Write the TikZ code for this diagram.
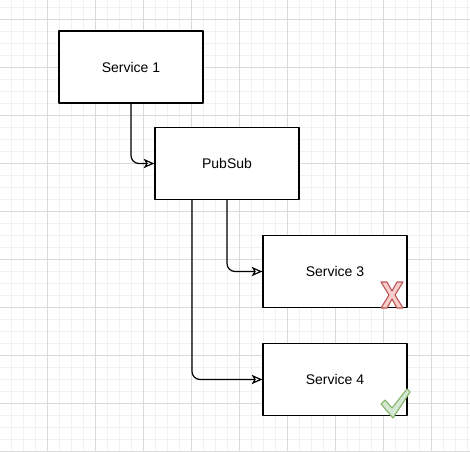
\documentclass[tikz,border=0pt]{standalone}
\usepackage{fontspec}
\setmainfont{Liberation Sans}
\usetikzlibrary{arrows.meta}
\definecolor{minorgrid}{HTML}{F1F1F1}
\definecolor{majorgrid}{HTML}{DADADA}
\definecolor{crossred}{HTML}{B85450}
\definecolor{crossfill}{HTML}{F8CECC}
\definecolor{tickgreen}{HTML}{82B366}
\definecolor{tickfill}{HTML}{D5E8D4}
\tikzset{
  service/.style={draw,fill=white,line width=1pt,minimum width=108pt,minimum height=54pt,
    font=\fontsize{10.5}{12}\selectfont},
  link/.style={line width=0.9pt,rounded corners=6pt,-{Stealth[open,length=8pt,width=7pt,inset=2pt]}},
}
\begin{document}
\begin{tikzpicture}[x=0.75pt,y=-0.75pt,line join=round,line cap=round]
			\fill[white] (0,0) rectangle (470,452);
			\useasboundingbox (0,0) rectangle (470,452);
			% grid paper
			\foreach \i in {0,...,38} \draw[minorgrid,line width=0.6pt] (11.3+12*\i,0)--++(0,452);
			\foreach \i in {0,...,37} \draw[minorgrid,line width=0.6pt] (0,7.3+12*\i)--++(470,0);
			\foreach \i in {0,...,8} \draw[majorgrid,line width=0.6pt] (47.3+48*\i,0)--++(0,452);
			\foreach \i in {0,...,9} \draw[majorgrid,line width=0.6pt] (0,19.3+48*\i)--++(470,0);
			
			\node[service] (svc1) at (131,67) {Service 1};
			\node[service] (pubsub) at (227,163.5) {PubSub};
			\node[service] (svc3) at (335,271.5) {Service 3};
			\node[service] (svc4) at (335,379.5) {Service 4};
			
			\draw[link] (svc1.south) |- (pubsub.west);
			\draw[link] (pubsub.south) |- (svc3.west);
			\draw[link] ([xshift=-26.25pt]pubsub.south) |- (svc4.west);
			
			% red cross and green tick
			\draw[crossred,fill=crossfill,line width=0.8pt,shift={(381,282)}]
				(0,0)--(6,0)--(11,9)--(16,0)--(22,0)--(14,13)--(22,26)--(16,26)--(11,17)--(6,26)--(0,26)--(8,13)--cycle;
			\draw[tickgreen,fill=tickfill,line width=0.8pt]
				(381,404)--(385,400)--(392,408)--(407,389)--(410,392)--(393,418)--cycle;
		\end{tikzpicture}
\end{document}
